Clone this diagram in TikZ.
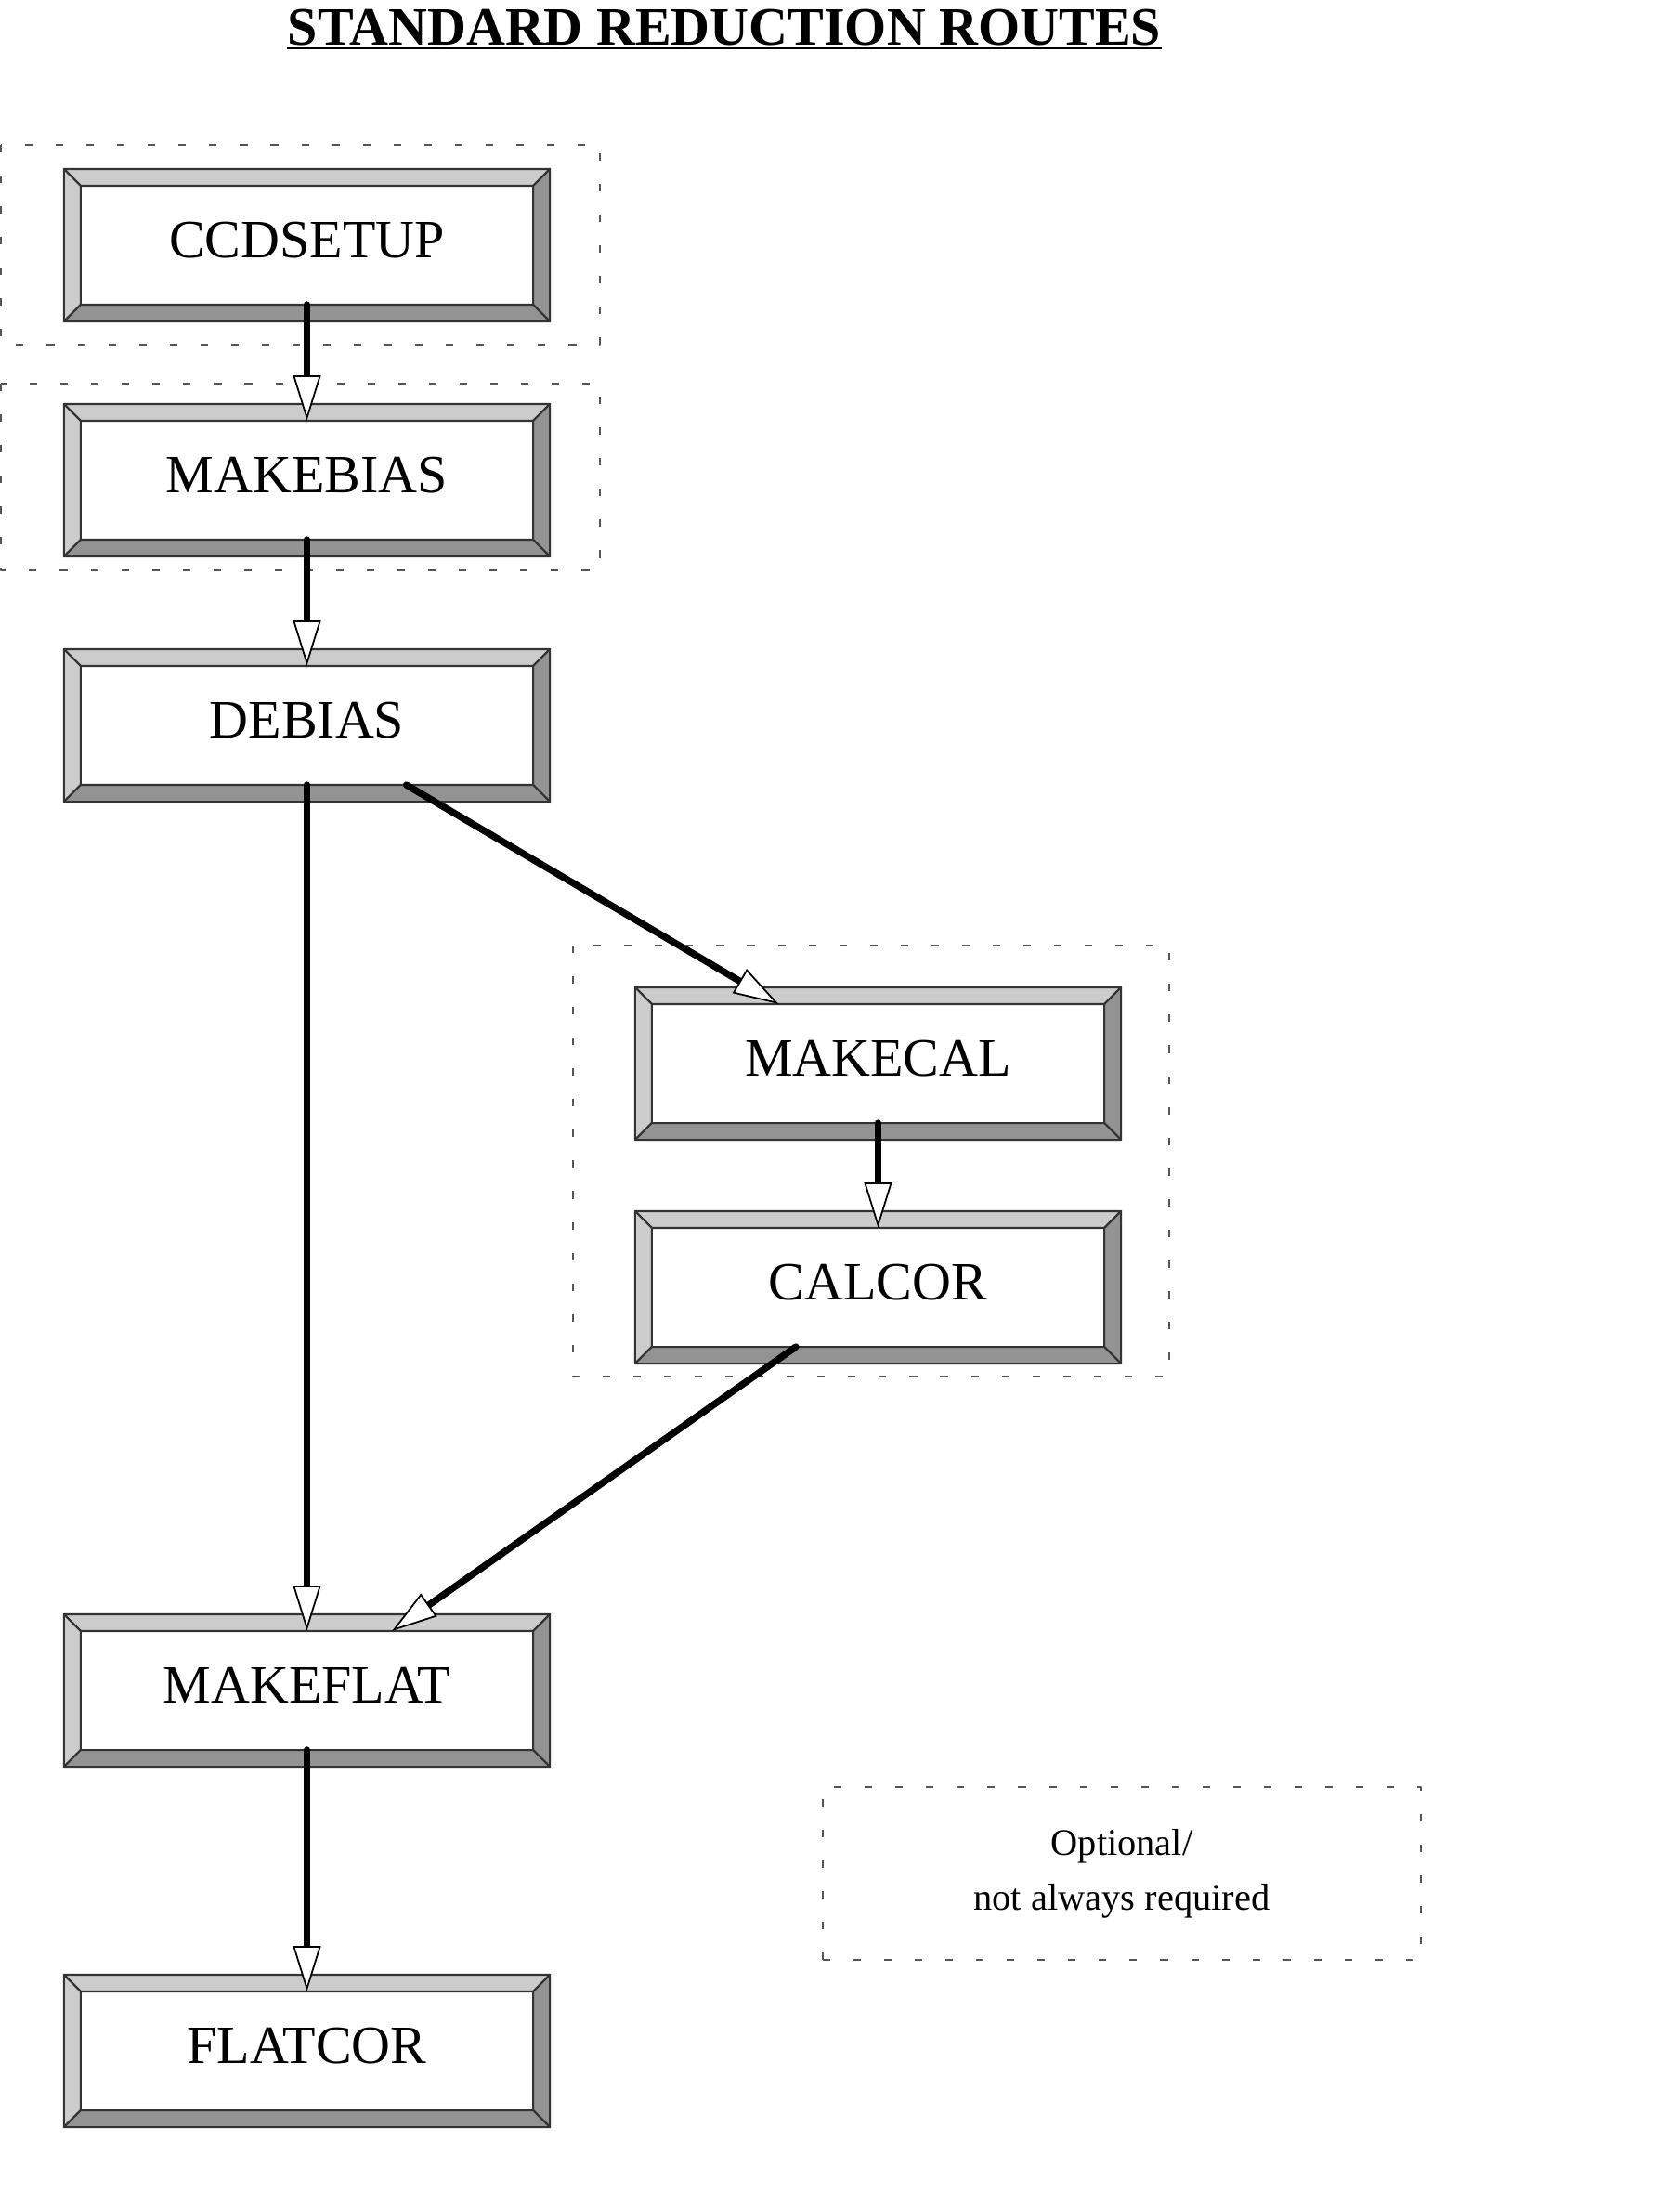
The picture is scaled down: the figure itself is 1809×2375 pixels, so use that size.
\documentclass[tikz,border=0pt]{standalone}
\usepackage{fontspec}
\setmainfont{Liberation Serif}
\usetikzlibrary{arrows.meta}

\definecolor{litegray}{HTML}{CCCCCC}
\definecolor{darkgray}{HTML}{939393}
\definecolor{edgegray}{HTML}{333333}
\definecolor{dashgray}{HTML}{555555}
\newcommand\bev{0.18cm}

\begin{document}
\begin{tikzpicture}[x=0.01cm, y=-0.01cm, line join=round,
	prog/.style={minimum width=5.23cm, minimum height=1.64cm, inner sep=0pt, outer sep=0pt,
		text height=0.385cm, text depth=0.11cm, font=\fontsize{16.5}{20}\selectfont},
	optbox/.style={draw=dashgray, line width=0.4pt, dash pattern=on 2.3pt off 7.1pt},
	flow/.style={line width=2.1pt, line cap=round,
		-{Triangle[length=13.9pt, width=8.5pt, fill=white, line width=0.5pt]}},
	bevlite/.style={fill=litegray, draw=edgegray, line width=0.6pt},
	bevdark/.style={fill=darkgray, draw=edgegray, line width=0.6pt}]

	\useasboundingbox (0,0) rectangle (1809,2375);

	% Tiêu đề
	\node[inner sep=0pt, anchor=base, font=\bfseries\fontsize{16.5}{20}\selectfont] (title) at (780,48) {STANDARD REDUCTION ROUTES};
	\draw[line width=0.75pt] ([yshift=-0.04cm]title.base west) -- ([yshift=-0.04cm]title.base east);

	% Các khung nét đứt (tuỳ chọn)
	\draw[optbox] (1,156) rectangle (646,371);
	\draw[optbox] (1,413) rectangle (646,614);
	\draw[optbox] (617,1018) rectangle (1259,1482);

	% Các chương trình
	\node[prog] (setup) at (330.5,264) {CCDSETUP};
	\node[prog] (mbias) at (330.5,517) {MAKEBIAS};
	\node[prog] (debias) at (330.5,781) {DEBIAS};
	\node[prog] (mcal) at (945.5,1145) {MAKECAL};
	\node[prog] (calcor) at (945.5,1386) {CALCOR};
	\node[prog] (mflat) at (330.5,1820) {MAKEFLAT};
	\node[prog] (flatcor) at (330.5,2208) {FLATCOR};

	% Viền nổi cho mỗi khung
	\foreach \b in {setup,mbias,debias,mcal,calcor,mflat,flatcor} {
		\draw[bevlite] (\b.north west) -- (\b.north east) -- ([shift={(-\bev,-\bev)}]\b.north east) -- ([shift={(\bev,-\bev)}]\b.north west) -- cycle;
		\draw[bevlite] (\b.north west) -- ([shift={(\bev,-\bev)}]\b.north west) -- ([shift={(\bev,\bev)}]\b.south west) -- (\b.south west) -- cycle;
		\draw[bevdark] (\b.north east) -- (\b.south east) -- ([shift={(-\bev,\bev)}]\b.south east) -- ([shift={(-\bev,-\bev)}]\b.north east) -- cycle;
		\draw[bevdark] (\b.south west) -- (\b.south east) -- ([shift={(-\bev,\bev)}]\b.south east) -- ([shift={(\bev,\bev)}]\b.south west) -- cycle;
	}

	% Các mũi tên
	\draw[flow] ([yshift=\bev]setup.south) -- ([yshift=-\bev]mbias.north);
	\draw[flow] ([yshift=\bev]mbias.south) -- ([yshift=-\bev]debias.north);
	\draw[flow] ([yshift=\bev]debias.south) -- ([yshift=-\bev]mflat.north);
	\draw[flow] ([shift={(1.07cm,\bev)}]debias.south) -- ([shift={(-1.07cm,-\bev)}]mcal.north);
	\draw[flow] ([yshift=\bev]mcal.south) -- ([yshift=-\bev]calcor.north);
	\draw[flow] ([shift={(-0.885cm,\bev)}]calcor.south) -- ([shift={(0.915cm,-\bev)}]mflat.north);
	\draw[flow] ([yshift=\bev]mflat.south) -- ([yshift=-\bev]flatcor.north);

	% Chú thích
	\node[optbox, minimum width=6.44cm, minimum height=1.86cm, align=center,
		font=\fontsize{11.5}{16.8}\selectfont] (legend) at (1208,2017) {Optional/\\not always required};

\end{tikzpicture}
\end{document}
